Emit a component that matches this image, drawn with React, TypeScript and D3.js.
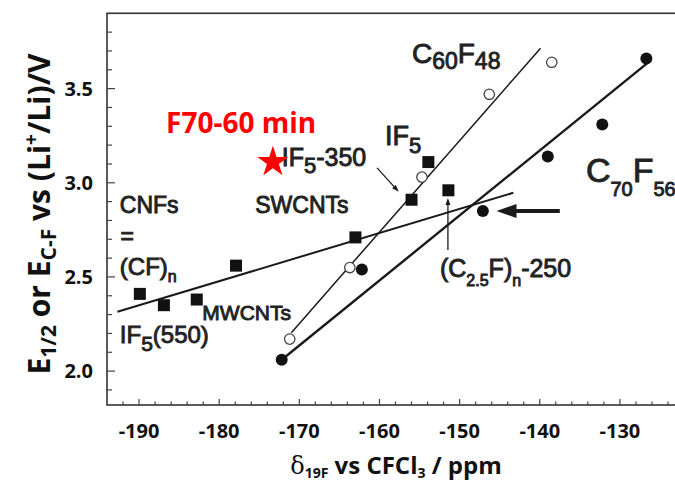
import React from "react";
import * as d3 from "d3";

// ---------- data ----------
const xDomain = [-194, -122.5];
const yDomain = [1.82, 3.9];
const xMajorTicks = [-190, -180, -170, -160, -150, -140, -130];
const yMajorTicks = [2.0, 2.5, 3.0, 3.5];

// CNFs / (CF)n family (filled squares)
const squareX = [-189.9, -186.9, -182.8, -177.9, -163.0, -156.0, -153.9, -151.4];
const squareY = [2.41, 2.35, 2.38, 2.56, 2.71, 2.91, 3.11, 2.96];
// C60F48 (open circles)
const openX = [-171.2, -163.7, -154.7, -146.3, -138.5];
const openY = [2.17, 2.55, 3.03, 3.47, 3.64];
// C70F56 (filled circles)
const filledX = [-172.2, -162.2, -147.1, -139.0, -132.2, -126.7];
const filledY = [2.06, 2.54, 2.85, 3.14, 3.31, 3.66];
// F70-60 min (red star)
const starX = [-173.3];
const starY = [3.11];

// linear fits: [x1, x2], [y1, y2]
const fitCNF = { x: [-192.7, -143.3], y: [2.315, 2.947], w: 2 };
const fitC60 = { x: [-171.0, -139.9], y: [2.204, 3.714], w: 1.5 };
const fitC70 = { x: [-172.2, -126.5], y: [2.06, 3.638], w: 2.4 };

type Seg = { t: string; sub?: boolean; sup?: boolean };
type Lab = { x: number; y: number; size: number; subSize: number; shift: number; segs: Seg[] };

const labels: Lab[] = [
  { x: -155.95, y: 3.636, size: 28, subSize: 23, shift: 6, segs: [{ t: "C" }, { t: "60", sub: true }, { t: "F" }, { t: "48", sub: true }] },
  { x: -159.3, y: 3.2, size: 27, subSize: 22, shift: 8, segs: [{ t: "IF" }, { t: "5", sub: true }] },
  { x: -172.2, y: 3.089, size: 25, subSize: 22, shift: 7, segs: [{ t: "IF" }, { t: "5", sub: true }, { t: "-350" }] },
  { x: -175.5, y: 2.84, size: 23, subSize: 23, shift: 0, segs: [{ t: "SWCNTs" }] },
  { x: -192.4, y: 2.84, size: 23, subSize: 23, shift: 0, segs: [{ t: "CNFs" }] },
  { x: -192.3, y: 2.675, size: 23, subSize: 23, shift: 0, segs: [{ t: "=" }] },
  { x: -192.4, y: 2.51, size: 24, subSize: 16, shift: 7, segs: [{ t: "(CF)" }, { t: "n", sub: true }] },
  { x: -192.4, y: 2.149, size: 24, subSize: 21, shift: 8, segs: [{ t: "IF" }, { t: "5", sub: true }, { t: "(550)" }] },
  { x: -182.1, y: 2.271, size: 21, subSize: 21, shift: 0, segs: [{ t: "MWCNTs" }] },
  { x: -152.45, y: 2.5, size: 25, subSize: 16, shift: 9, segs: [{ t: "(C" }, { t: "2.5", sub: true }, { t: "F)" }, { t: "n", sub: true }, { t: "-250" }] },
  { x: -134.24, y: 3.004, size: 34, subSize: 20, shift: 14, segs: [{ t: "C" }, { t: "70", sub: true }, { t: "F" }, { t: "56", sub: true }] },
];

// pointer arrows [x1, y1, x2, y2] (tail -> head)
const pointerIF5 = [-160.3, 3.079, -157.6, 2.952];
const pointerC25 = [-151.46, 2.643, -151.46, 2.919];
const bigArrow = [-137.5, 2.85, -145.4, 2.85];

const W = 675;
const H = 486;

export default function App() {
  const x = d3.scaleLinear().domain(xDomain).range([107, 680]);
  const y = d3.scaleLinear().domain(yDomain).range([405, 13.3]);

  const xMinor = d3.range(-192, -122, 2);
  const yMinor = d3.range(19, 39).map((v) => v / 10);

  const line = d3
    .line<[number, number]>()
    .x((d) => x(d[0]))
    .y((d) => y(d[1]));

  const fits = [fitCNF, fitC60, fitC70];
  const starPath = d3.symbol(d3.symbolStar, 300)() as string;

  const renderLabel = (l: Lab, i: number) => {
    let cur = 0;
    return (
      <text
        key={i}
        x={x(l.x)}
        y={y(l.y)}
        fontFamily="'Liberation Sans', Arial, sans-serif"
        fontSize={l.size}
        fill="#222"
        stroke="#222"
        strokeWidth={0.9}
      >
        {l.segs.map((s, j) => {
          const target = s.sub ? l.shift : 0;
          const dy = target - cur;
          cur = target;
          return (
            <tspan key={j} dy={dy} fontSize={s.sub ? l.subSize : l.size}>
              {s.t}
            </tspan>
          );
        })}
      </text>
    );
  };

  const arrowHead = (x2: number, y2: number, ang: number, len: number, half: number) => {
    const bx = x2 - len * Math.cos(ang);
    const by = y2 - len * Math.sin(ang);
    const px = -Math.sin(ang) * half;
    const py = Math.cos(ang) * half;
    return `M${x2},${y2}L${bx + px},${by + py}L${bx - px},${by - py}Z`;
  };

  const pointer = (p: number[], key: string, w: number, len: number, half: number) => {
    const x1 = x(p[0]);
    const y1 = y(p[1]);
    const x2 = x(p[2]);
    const y2 = y(p[3]);
    const ang = Math.atan2(y2 - y1, x2 - x1);
    const sx = x2 - len * 0.8 * Math.cos(ang);
    const sy = y2 - len * 0.8 * Math.sin(ang);
    return (
      <g key={key}>
        <line x1={x1} y1={y1} x2={sx} y2={sy} stroke="#1a1a1a" strokeWidth={w} />
        <path d={arrowHead(x2, y2, ang, len, half)} fill="#1a1a1a" />
      </g>
    );
  };

  const tickFont = "'Open Sans', 'Liberation Sans', sans-serif";

  return (
    <svg
      width={W}
      height={H}
      style={{ position: "absolute", left: 0, top: 0, background: "#fff" }}
    >
      <rect x={0} y={0} width={W} height={H} fill="#fff" />
      {/* frame */}
      <rect x={107} y={13.3} width={600} height={405 - 13.3} fill="none" stroke="#333" strokeWidth={1.6} />

      {/* x ticks */}
      {xMinor.map((v) => {
        const major = v % 10 === 0;
        return (
          <line key={"xt" + v} x1={x(v)} x2={x(v)} y1={405} y2={405 - (major ? 6 : 3.5)} stroke="#444" strokeWidth={1.2} />
        );
      })}
      {/* y ticks */}
      {yMinor.map((v) => {
        const major = Math.abs(v * 2 - Math.round(v * 2)) < 1e-6;
        return (
          <line key={"yt" + v} x1={107} x2={107 + (major ? 8 : 5)} y1={y(v)} y2={y(v)} stroke="#444" strokeWidth={1.2} />
        );
      })}

      {/* tick labels */}
      {xMajorTicks.map((v) => (
        <text key={"xl" + v} x={x(v)} y={438} textAnchor="middle" fontFamily={tickFont} fontWeight="bold" fontSize={20} fill="#111">
          {v}
        </text>
      ))}
      {yMajorTicks.map((v) => (
        <text key={"yl" + v} x={93} y={y(v) + 7} textAnchor="end" fontFamily={tickFont} fontWeight="bold" fontSize={20} fill="#111">
          {v.toFixed(1)}
        </text>
      ))}

      {/* axis titles */}
      <text x={396} y={474} textAnchor="middle" fontFamily={tickFont} fontWeight="bold" fontSize={24} fill="#111">
        <tspan fontFamily="'DejaVu Serif', serif" fontWeight="normal">δ</tspan>
        <tspan fontSize={14} dy={4}>19F</tspan>
        <tspan dy={-4}> vs CFCl</tspan>
        <tspan fontSize={14} dy={4}>3</tspan>
        <tspan dy={-4}> / ppm</tspan>
      </text>
      <text
        transform="translate(50,214) rotate(-90)"
        textAnchor="middle"
        fontFamily={tickFont}
        fontWeight="bold"
        fontSize={30}
        fill="#111"
      >
        <tspan>E</tspan>
        <tspan fontSize={21} dy={6}>1/2</tspan>
        <tspan dy={-6}> or E</tspan>
        <tspan fontSize={21} dy={6}>C-F</tspan>
        <tspan dy={-6}> vs (Li</tspan>
        <tspan fontSize={19} dy={-12}>+</tspan>
        <tspan dy={12}>/Li)/V</tspan>
      </text>

      {/* fit lines */}
      {fits.map((f, i) => (
        <path
          key={"fit" + i}
          d={line([[f.x[0], f.y[0]], [f.x[1], f.y[1]]] as [number, number][]) as string}
          stroke="#1a1a1a"
          strokeWidth={f.w}
          fill="none"
        />
      ))}

      {/* labels */}
      {labels.map(renderLabel)}

      {/* open circles */}
      {openX.map((v, i) => (
        <circle key={"o" + i} cx={x(v)} cy={y(openY[i])} r={5.2} fill="#fff" stroke="#444" strokeWidth={1.3} />
      ))}
      {/* filled circles */}
      {filledX.map((v, i) => (
        <circle key={"f" + i} cx={x(v)} cy={y(filledY[i])} r={6} fill="#111" />
      ))}
      {/* squares */}
      {squareX.map((v, i) => (
        <rect key={"s" + i} x={x(v) - 6} y={y(squareY[i]) - 6} width={12} height={12} fill="#111" />
      ))}

      {/* pointers */}
      {pointer(pointerIF5, "p1", 1.3, 7, 2.5)}
      {pointer(pointerC25, "p2", 1.3, 7, 2.5)}
      {pointer(bigArrow, "p3", 4, 20, 7)}

      {/* F70-60 min */}
      {starX.map((v, i) => (
        <path key={"st" + i} d={starPath} transform={`translate(${x(v)},${y(starY[i])})`} fill="#ff0000" />
      ))}
      <text x={x(-186.63)} y={y(3.264)} fontFamily={tickFont} fontWeight="bold" fontSize={28} fill="#ff0000">
        F70-60 min
      </text>
    </svg>
  );
}
